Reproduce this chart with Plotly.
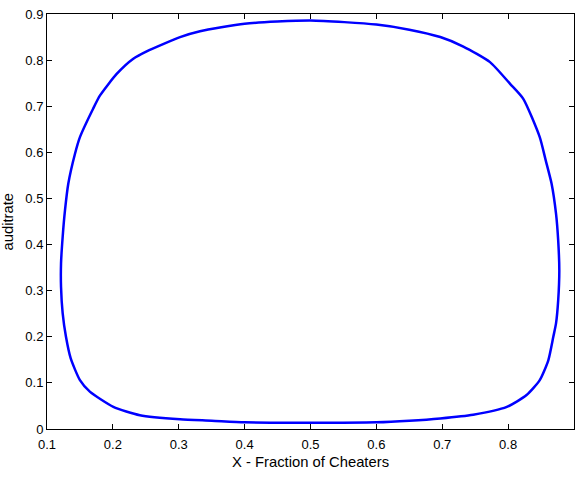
import plotly.graph_objects as go

# Closed orbit: fraction of cheaters (x) vs audit rate (y)
frac_cheaters = [0.500, 0.600, 0.650, 0.697, 0.747, 0.798, 0.828, 0.848, 0.861, 0.8686,
                 0.8727, 0.876, 0.8777, 0.876, 0.8727, 0.866, 0.857, 0.848, 0.823, 0.803,
                 0.7725, 0.732, 0.697, 0.650, 0.600, 0.500, 0.400, 0.3323, 0.302, 0.2513,
                 0.231, 0.2058, 0.1805, 0.170, 0.150, 0.1425, 0.1323, 0.1273, 0.1238, 0.1213,
                 0.1213, 0.1238, 0.1288, 0.136, 0.150, 0.165, 0.2007, 0.241, 0.302, 0.350,
                 0.400, 0.500]
audit_rate = [0.0135, 0.0145, 0.018, 0.023, 0.031, 0.048, 0.0736, 0.106, 0.149, 0.200,
              0.229, 0.279, 0.344, 0.409, 0.467, 0.532, 0.583, 0.633, 0.716, 0.7485,
              0.7956, 0.8295, 0.850, 0.866, 0.877, 0.886, 0.879, 0.8627, 0.850, 0.819,
              0.803, 0.770, 0.7234, 0.6946, 0.633, 0.597, 0.532, 0.474, 0.417, 0.359,
              0.308, 0.251, 0.200, 0.153, 0.106, 0.081, 0.048, 0.030, 0.021, 0.018,
              0.0145, 0.0135]

x_ticks = [0.1, 0.2, 0.3, 0.4, 0.5, 0.6, 0.7, 0.8, 0.9]
x_labels = ["0.1", "0.2", "0.3", "0.4", "0.5", "0.6", "0.7", "0.8", "0.9"]
y_ticks = [0, 0.1, 0.2, 0.3, 0.4, 0.5, 0.6, 0.7, 0.8, 0.9]
y_labels = ["0", "0.1", "0.2", "0.3", "0.4", "0.5", "0.6", "0.7", "0.8", "0.9"]

fig = go.Figure()
fig.add_trace(go.Scatter(
    x=frac_cheaters, y=audit_rate, mode="lines",
    line=dict(color="#0000ff", width=2.5, shape="spline", smoothing=0.6),
    showlegend=False, hoverinfo="skip"))

fam = "Liberation Sans, Arial, sans-serif"
tick_font = dict(family=fam, size=13, color="#000000")
title_font = dict(family=fam, size=14.8, color="#000000")

fig.update_layout(
    width=580, height=482,
    margin=dict(l=47, r=6, t=14, b=53),
    paper_bgcolor="white", plot_bgcolor="white",
    font=tick_font,
    xaxis=dict(range=[0.1, 0.9], tickvals=x_ticks, ticktext=x_labels,
               ticks="inside", ticklen=5, tickcolor="black", tickwidth=1,
               showline=True, linecolor="black", linewidth=1, mirror="ticks",
               showgrid=False, zeroline=False, automargin=False,
               tickfont=tick_font, ticklabelstandoff=3,
               title=dict(text="X - Fraction of Cheaters", font=title_font, standoff=6)),
    yaxis=dict(range=[0, 0.9], tickvals=y_ticks, ticktext=y_labels,
               ticks="inside", ticklen=5, tickcolor="black", tickwidth=1,
               showline=True, linecolor="black", linewidth=1, mirror="ticks",
               showgrid=False, zeroline=False, automargin=False,
               tickfont=tick_font),
    annotations=[dict(text="auditrate", font=title_font, textangle=-90,
                      xref="paper", yref="paper", x=0, y=0.5,
                      xanchor="center", yanchor="middle", xshift=-40,
                      showarrow=False)],
)

fig.write_html("out.html")
